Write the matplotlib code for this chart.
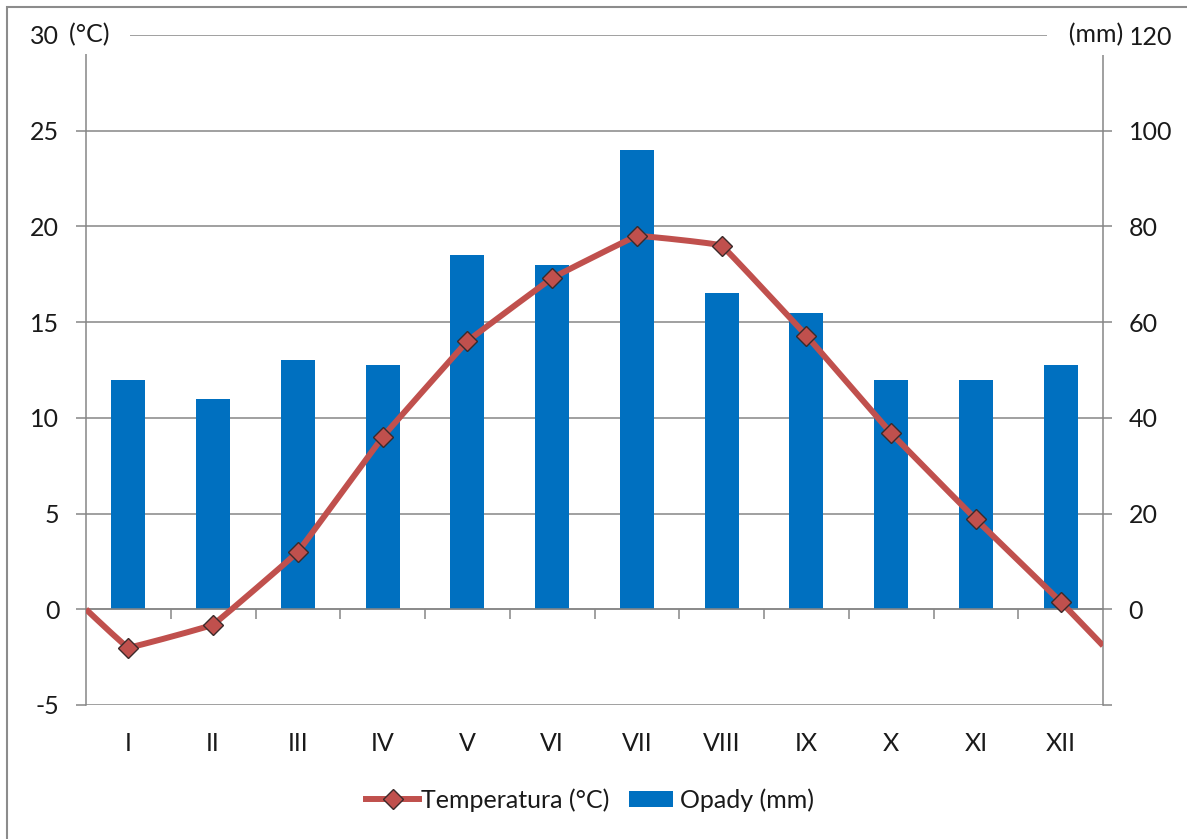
import numpy as np
import matplotlib
matplotlib.use('Agg')
import matplotlib.pyplot as plt
from matplotlib.lines import Line2D
from matplotlib.patches import Patch, Rectangle
from matplotlib.legend_handler import HandlerPatch
from matplotlib.transforms import blended_transform_factory

# ---------------- data ----------------
months = ['I', 'II', 'III', 'IV', 'V', 'VI', 'VII', 'VIII', 'IX', 'X', 'XI', 'XII']
temperature = [-2.0, -0.8, 3.0, 9.0, 14.0, 17.3, 19.5, 19.0, 14.3, 9.2, 4.7, 0.4]
precipitation = [48, 44, 52, 51, 74, 72, 96, 66, 62, 48, 48, 51]
temp_edge_start = 0.0     # value of the line at the left plot edge
temp_edge_end = -1.9      # value of the line at the right plot edge
temp_ticks = [-5, 0, 5, 10, 15, 20, 25, 30]
precip_ticks = [-20, 0, 20, 40, 60, 80, 100, 120]
precip_labels = ['', '0', '20', '40', '60', '80', '100', '120']
label_temp = 'Temperatura (°C)'
label_precip = 'Opady (mm)'

FONT = ['Lato', 'DejaVu Sans']
plt.rcParams['font.family'] = FONT
plt.rcParams['axes.unicode_minus'] = False
TXT = '#1a1a1a'
GRID = '#868686'
BAR = '#0070C0'
LINE = '#C0504D'
MEC = '#3b2a2a'
FS = 18

W, H = 1187, 839
fig = plt.figure(figsize=(W / 100, H / 100), dpi=100)
fig.patch.set_facecolor('white')

left, right, top, bottom = 86, 1103, 35, 705
ax = fig.add_axes([left / W, 1 - bottom / H, (right - left) / W, (bottom - top) / H])
ax2 = ax.twinx()
ax.set_zorder(2)
ax2.set_zorder(1)
ax.patch.set_visible(False)

n = len(months)
x = np.arange(n)

# ---- bars (mm axis) ----
ax2.bar(x, precipitation, width=0.4, color=BAR, zorder=2)
ax2.set_ylim(-20, 120)
ax2.set_yticks(precip_ticks)
ax2.set_yticklabels(precip_labels)
ax2.yaxis.grid(True, color=GRID, lw=1.1)
ax2.set_axisbelow(True)
ax2.tick_params(axis='y', direction='out', length=6.5, width=1.1, color=GRID,
                pad=12, labelsize=FS, labelcolor=TXT)
ax2.tick_params(axis='x', length=0, labelbottom=False)
for s in ['top', 'left', 'bottom']:
    ax2.spines[s].set_visible(False)
ax2.spines['right'].set_color(GRID)
ax2.spines['right'].set_linewidth(1.1)

# ---- lightly smoothed temperature line (temp axis) ----
def smooth(xs, ys, tension=0.12, npts=40):
    P = np.column_stack([np.asarray(xs, float), np.asarray(ys, float)])
    Pe = np.vstack([P[0], P, P[-1]])
    t = np.linspace(0, 1, npts)[:, None]
    out = []
    for i in range(len(P) - 1):
        p0, p1, p2, p3 = Pe[i], Pe[i + 1], Pe[i + 2], Pe[i + 3]
        c1 = p1 + tension * (p2 - p0) / 6.0
        c2 = p2 - tension * (p3 - p1) / 6.0
        seg = (1 - t) ** 3 * p1 + 3 * (1 - t) ** 2 * t * c1 + 3 * (1 - t) * t ** 2 * c2 + t ** 3 * p2
        out.append(seg if i == 0 else seg[1:])
    return np.vstack(out)

xs_line = [-0.5] + list(x) + [n - 0.5]
ys_line = [temp_edge_start] + temperature + [temp_edge_end]
curve = smooth(xs_line, ys_line)
ax.plot(curve[:, 0], curve[:, 1], color=LINE, lw=4.3, solid_capstyle='butt',
        solid_joinstyle='round', zorder=3)
ax.plot(x, temperature, linestyle='none', marker='D', ms=10.5, mfc=LINE,
        mec=MEC, mew=1.0, zorder=4)

ax.set_xlim(-0.5, n - 0.5)
ax.set_ylim(-5, 30)
ax.set_yticks(temp_ticks)
ax.tick_params(axis='y', direction='out', length=7.2, width=1.1, color=GRID,
               pad=12, labelsize=FS, labelcolor=TXT)
ax.set_xticks(np.arange(0.5, n - 1, 1))
ax.set_xticklabels([])
ax.tick_params(axis='x', direction='out', length=7, width=1.1, color=GRID)
ax.spines['bottom'].set_position(('data', 0))
ax.spines['bottom'].set_color(GRID)
ax.spines['bottom'].set_linewidth(1.1)
ax.spines['left'].set_color(GRID)
ax.spines['left'].set_linewidth(1.1)
for s in ['top', 'right']:
    ax.spines[s].set_visible(False)

# category labels below the plot area
trans = blended_transform_factory(ax.transData, ax.transAxes)
for xi, m in zip(x, months):
    ax.text(xi, -0.057, m, transform=trans, ha='center', va='center',
            fontsize=FS, color=TXT)

# unit labels on top of the axes
ax.annotate('(°C)  ', xy=(0, 1), xycoords='axes fraction', xytext=(-17, 0),
            textcoords='offset pixels', ha='left', va='center', fontsize=FS, color=TXT,
            bbox=dict(boxstyle='square,pad=0.3', fc='white', ec='none'), zorder=10,
            annotation_clip=False)
ax.annotate('  (mm)', xy=(1, 1), xycoords='axes fraction', xytext=(20, 0),
            textcoords='offset pixels', ha='right', va='center', fontsize=FS, color=TXT,
            bbox=dict(boxstyle='square,pad=0.35', fc='white', ec='none'), zorder=10,
            annotation_clip=False)

# legend
def small_rect(legend, orig_handle, xdescent, ydescent, width, height, fontsize):
    w = width * 0.83
    h = fontsize * 0.62
    return Rectangle((-xdescent + (width - w) / 2, -ydescent + (height - h) / 2), w, h)

handles = [Line2D([], [], color=LINE, lw=4.3, marker='D', ms=10.5, mfc=LINE, mec=MEC, mew=1.0),
           Patch(facecolor=BAR, edgecolor='none')]
fig.legend(handles, [label_temp, label_precip], loc='center', bbox_to_anchor=(0.497, 0.0465),
           ncol=2, frameon=False, fontsize=FS, handlelength=2.1, handletextpad=0.1,
           columnspacing=0.6, labelcolor=TXT,
           handler_map={Patch: HandlerPatch(patch_func=small_rect)})

# outer border
fig.add_artist(Rectangle((7 / W, -0.1), 2, (H - 7) / H + 0.1, transform=fig.transFigure,
                         fill=False, edgecolor='#8c8c8c', lw=1.5))

fig.savefig('out.png', dpi=100, facecolor='white')
